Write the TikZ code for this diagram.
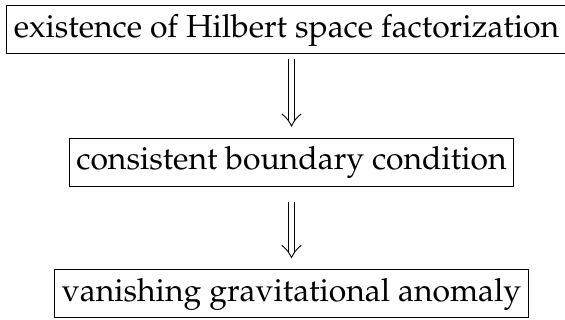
\documentclass[tikz,border=0pt]{standalone}
\usepackage[T1]{fontenc}
\usepackage{mathpazo}
\usetikzlibrary{arrows.meta,positioning}

\begin{document}
\begin{tikzpicture}[x=1pt,y=1pt,font=\fontsize{31.9}{38}\selectfont,
box/.style={draw,line width=1pt,minimum height=48pt,inner xsep=7pt,inner ysep=0pt},
shaft/.style={line width=.8pt},
barb/.style={line width=.9pt,line cap=round}]
\useasboundingbox (0,0) rectangle (565,-320);
\node[box] (hilbert) at (286.5,-30) {existence of Hilbert space factorization};
\node[box] (boundary) at (291.5,-162.5) {consistent boundary condition};
\node[box] (anomaly) at (291.5,-294) {vanishing gravitational anomaly};
% ends of the two double arrows
\coordinate (from1) at ([yshift=-5pt]boundary.north |- hilbert.south);
\coordinate (to1) at ([yshift=12pt]boundary.north);
\coordinate (from2) at ([yshift=-15pt]boundary.south);
\coordinate (to2) at ([yshift=12pt]anomaly.north);
\foreach \a/\b in {from1/to1,from2/to2}{
 \draw[shaft] ([xshift=-3pt]\a)--([xshift=-3pt,yshift=5pt]\b);
 \draw[shaft] ([xshift=3pt]\a)--([xshift=3pt,yshift=5pt]\b);
 \draw[barb] ([xshift=-9.5pt,yshift=12pt]\b) to[bend left=12] (\b) to[bend left=12] ([xshift=9.5pt,yshift=12pt]\b);
}
\end{tikzpicture}
\end{document}
